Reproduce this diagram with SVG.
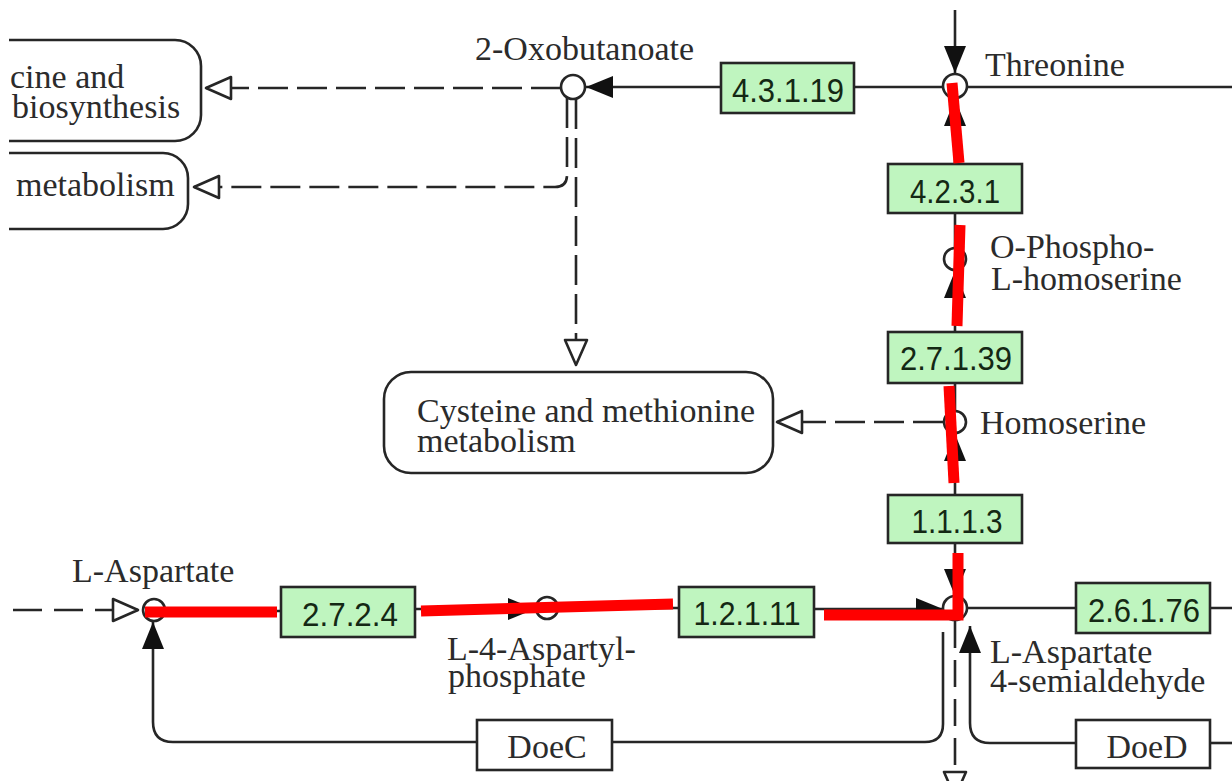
<svg xmlns="http://www.w3.org/2000/svg" width="1232" height="781" viewBox="0 0 1232 781">
<style>
.ln{fill:none;stroke:#262626;stroke-width:2.6}
.dash{stroke-dasharray:30 9}
.cpd{fill:#fff;stroke:#262626;stroke-width:2.6}
.map{fill:#fff;stroke:#262626;stroke-width:2.6}
.ec rect{fill:#bff5bf;stroke:#262626;stroke-width:2.6}
.ec text{font-family:"Liberation Sans",Arial,sans-serif;font-size:34px;fill:#142814;text-anchor:middle}
.gn rect{fill:#fff;stroke:#262626;stroke-width:2.6}
.lbl{font-family:"Liberation Serif","Times New Roman",serif;font-size:34px;fill:#2b2b2b}
.hl{fill:none;stroke:#ff0000;stroke-width:11;stroke-linecap:butt}
</style>
<defs>
<marker id="fa" markerUnits="userSpaceOnUse" viewBox="0 0 27 22" refX="27" refY="11" markerWidth="27" markerHeight="22" orient="auto"><path d="M0,0 L27,11 L0,22 Z" fill="#111"/></marker>
<marker id="oa" markerUnits="userSpaceOnUse" viewBox="-3 -3 31 28" refX="25" refY="11" markerWidth="31" markerHeight="28" orient="auto"><path d="M0,0 L25,11 L0,22 Z" fill="#fff" stroke="#262626" stroke-width="2.6" stroke-linejoin="round"/></marker>
</defs>
<rect width="1232" height="781" fill="#fff"/>

<!-- pathway map links -->
<g id="map-vli">
<path class="map" d="M9,40 H175 A26,26 0 0 1 201,66 V115 A26,26 0 0 1 175,141 H9"/>
<text class="lbl" x="10" y="88">cine and<tspan x="12" dy="30">biosynthesis</tspan></text>
</g>
<g id="map-metab">
<path class="map" d="M9,153 H163 A25,25 0 0 1 188,178 V204 A25,25 0 0 1 163,229 H9"/>
<text class="lbl" x="16" y="196">metabolism</text>
</g>
<g id="map-cys">
<rect class="map" x="384" y="372" width="389" height="101" rx="27"/>
<text class="lbl" x="417" y="422">Cysteine and methionine<tspan x="417" dy="30">metabolism</tspan></text>
</g>

<!-- connectors -->
<g id="connectors">
<path class="ln" d="M955,10 V73" marker-end="url(#fa)"/>
<path class="ln" d="M854,87 H1232"/>
<path class="ln" d="M721,87 H586" marker-end="url(#fa)"/>
<path class="ln dash" d="M561,88 H206" marker-end="url(#oa)"/>
<path class="ln dash" d="M567,98 V175 Q567,187 555,187 H194" marker-end="url(#oa)"/>
<path class="ln dash" d="M576,99 V365" marker-end="url(#oa)"/>
<path class="ln" d="M955,164 V99" marker-end="url(#fa)"/>
<path class="ln" d="M955,213 V248"/>
<path class="ln" d="M955,332 V271" marker-end="url(#fa)"/>
<path class="ln" d="M955,383 V411"/>
<path class="ln" d="M955,495 V434" marker-end="url(#fa)"/>
<path class="ln dash" d="M943,422 H777" marker-end="url(#oa)"/>
<path class="ln" d="M955,543 V596" marker-end="url(#fa)"/>
<path class="ln" d="M13,610 H138" stroke-dasharray="29 12" marker-end="url(#oa)"/>
<path class="ln" d="M165,611 H281"/>
<path class="ln" d="M415,609 H535" marker-end="url(#fa)"/>
<path class="ln" d="M558,608 H679"/>
<path class="ln" d="M814,609 H943" marker-end="url(#fa)"/>
<path class="ln" d="M967,608 H1076 M1210,608 H1232"/>
<path class="ln" d="M955,621 V797" stroke-dasharray="27 12" marker-end="url(#oa)"/>
<path class="ln" d="M943,632 V724 Q943,742 925,742 H612"/>
<path class="ln" d="M477,742 H173 Q153,742 153,722 V622" marker-end="url(#fa)"/>
<path class="ln" d="M1076,743 H990 Q970,743 970,723 V626" marker-end="url(#fa)"/>
<path class="ln" d="M1210,743 H1232"/>
</g>

<!-- compounds -->
<g id="c-2-oxobutanoate">
<circle class="cpd" cx="573" cy="87" r="12"/>
<text class="lbl" x="475" y="60">2-Oxobutanoate</text>
</g>
<g id="c-threonine">
<circle class="cpd" cx="955" cy="86" r="12"/>
<text class="lbl" x="985" y="76">Threonine</text>
</g>
<g id="c-o-phospho-homoserine">
<circle class="cpd" cx="955" cy="259" r="11"/>
<text class="lbl" x="990" y="258">O-Phospho-<tspan x="991" dy="32">L-homoserine</tspan></text>
</g>
<g id="c-homoserine">
<circle class="cpd" cx="955" cy="422" r="11"/>
<text class="lbl" x="980" y="434">Homoserine</text>
</g>
<g id="c-aspartate-semialdehyde">
<circle class="cpd" cx="955" cy="608" r="12"/>
<text class="lbl" x="990" y="663">L-Aspartate<tspan x="990" dy="29">4-semialdehyde</tspan></text>
</g>
<g id="c-aspartate">
<circle class="cpd" cx="154" cy="610" r="11"/>
<text class="lbl" x="72" y="582">L-Aspartate</text>
</g>
<g id="c-aspartyl-phosphate">
<circle class="cpd" cx="547" cy="608" r="11"/>
<text class="lbl" x="447" y="660">L-4-Aspartyl-<tspan x="448" dy="27">phosphate</tspan></text>
</g>

<!-- enzymes -->
<g id="ec-4.3.1.19" class="ec"><rect x="721" y="63" width="133" height="50"/><text x="788" y="102" textLength="112" lengthAdjust="spacingAndGlyphs">4.3.1.19</text></g>
<g id="ec-4.2.3.1" class="ec"><rect x="888" y="164" width="134" height="49"/><text x="955" y="203" textLength="90" lengthAdjust="spacingAndGlyphs">4.2.3.1</text></g>
<g id="ec-2.7.1.39" class="ec"><rect x="888" y="332" width="134" height="51"/><text x="956" y="370" textLength="112" lengthAdjust="spacingAndGlyphs">2.7.1.39</text></g>
<g id="ec-1.1.1.3" class="ec"><rect x="888" y="495" width="134" height="48"/><text x="957" y="533" textLength="91" lengthAdjust="spacingAndGlyphs">1.1.1.3</text></g>
<g id="ec-2.7.2.4" class="ec"><rect x="281" y="587" width="134" height="50"/><text x="350" y="626" textLength="96" lengthAdjust="spacingAndGlyphs">2.7.2.4</text></g>
<g id="ec-1.2.1.11" class="ec"><rect x="679" y="587" width="135" height="50"/><text x="747" y="625" textLength="107" lengthAdjust="spacingAndGlyphs">1.2.1.11</text></g>
<g id="ec-2.6.1.76" class="ec"><rect x="1076" y="583" width="134" height="50"/><text x="1144" y="622" textLength="112" lengthAdjust="spacingAndGlyphs">2.6.1.76</text></g>

<!-- gene boxes -->
<g id="gene-doec" class="gn"><rect x="477" y="720" width="135" height="50"/><text class="lbl" x="547" y="758" text-anchor="middle">DoeC</text></g>
<g id="gene-doed" class="gn"><rect x="1076" y="720" width="134" height="48"/><text class="lbl" x="1147" y="758" text-anchor="middle">DoeD</text></g>

<!-- highlighted route -->
<g id="highlight">
<path class="hl" d="M952,83 L959,163"/>
<path class="hl" d="M960,225 L957,326"/>
<path class="hl" d="M949,386 L954,483"/>
<path class="hl" d="M145,612 H277"/>
<path class="hl" d="M421,611 L673,604"/>
<path class="hl" d="M824,615 H958 V553" stroke-linejoin="miter"/>
</g>
</svg>
